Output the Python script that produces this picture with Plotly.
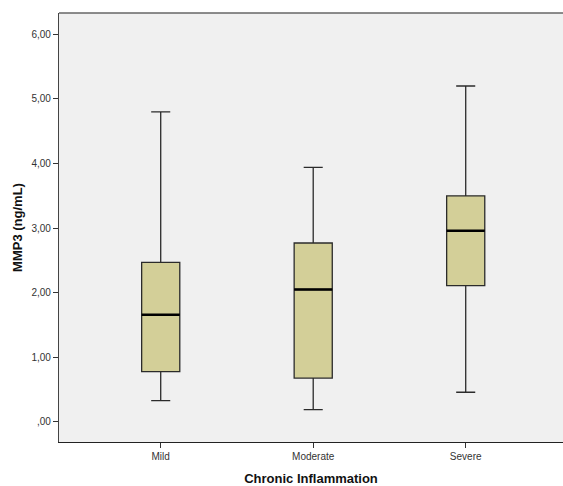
import plotly.graph_objects as go

categories = ["Mild", "Moderate", "Severe"]
lower_whisker = [0.33, 0.19, 0.46]
q1 = [0.78, 0.68, 2.11]
median = [1.66, 2.05, 2.96]
q3 = [2.47, 2.77, 3.50]
upper_whisker = [4.80, 3.94, 5.20]

y_tickvals = [0, 1, 2, 3, 4, 5, 6]
y_ticktext = [",00", "1,00", "2,00", "3,00", "4,00", "5,00", "6,00"]

xpos = list(range(len(categories)))
box_w = 0.25

fig = go.Figure()
fig.add_trace(go.Box(
    x=xpos, q1=q1, median=median, q3=q3,
    lowerfence=lower_whisker, upperfence=upper_whisker,
    boxpoints=False, width=box_w, whiskerwidth=0.5,
    fillcolor="#d3cf98", line=dict(color="#2b2b2b", width=1.3),
    showlegend=False, hoverinfo="skip",
))

mx, my = [], []
for i, m in zip(xpos, median):
    mx += [i - box_w / 2, i + box_w / 2, None]
    my += [m, m, None]
fig.add_trace(go.Scatter(x=mx, y=my, mode="lines",
                         line=dict(color="black", width=2.6),
                         showlegend=False, hoverinfo="skip"))

font_tick = dict(family="Liberation Sans, Arial, sans-serif", size=10, color="#333333")
font_title = dict(family="Liberation Sans, Arial, sans-serif", size=13, color="#111111")

fig.update_layout(
    width=563, height=486,
    margin=dict(l=59, r=0, t=13, b=44),
    paper_bgcolor="white", plot_bgcolor="#f0f0f0",
    xaxis=dict(
        range=[-0.667, 2.638], tickvals=xpos, ticktext=categories,
        showgrid=False, zeroline=False, showline=True, linecolor="#222222",
        linewidth=1.2, mirror=False,
        ticks="outside", ticklen=5, tickcolor="#333333", tickfont=font_tick,
        title=dict(text="<b>Chronic Inflammation</b>", font=font_title, standoff=13),
    ),
    yaxis=dict(
        range=[-0.31, 6.33], tickvals=y_tickvals, ticktext=y_ticktext,
        showgrid=False, zeroline=False, showline=True, linecolor="#444444",
        linewidth=1.2,
        ticks="outside", ticklen=5, tickcolor="#333333", tickfont=font_tick,
        title=dict(text="<b>MMP3 (ng/mL)</b>", font=font_title, standoff=5),
    ),
    shapes=[dict(type="line", xref="paper", yref="paper", x0=0, x1=1, y0=1, y1=1,
                 line=dict(color="#666666", width=1.5))],
)

fig.write_html("out.html")
